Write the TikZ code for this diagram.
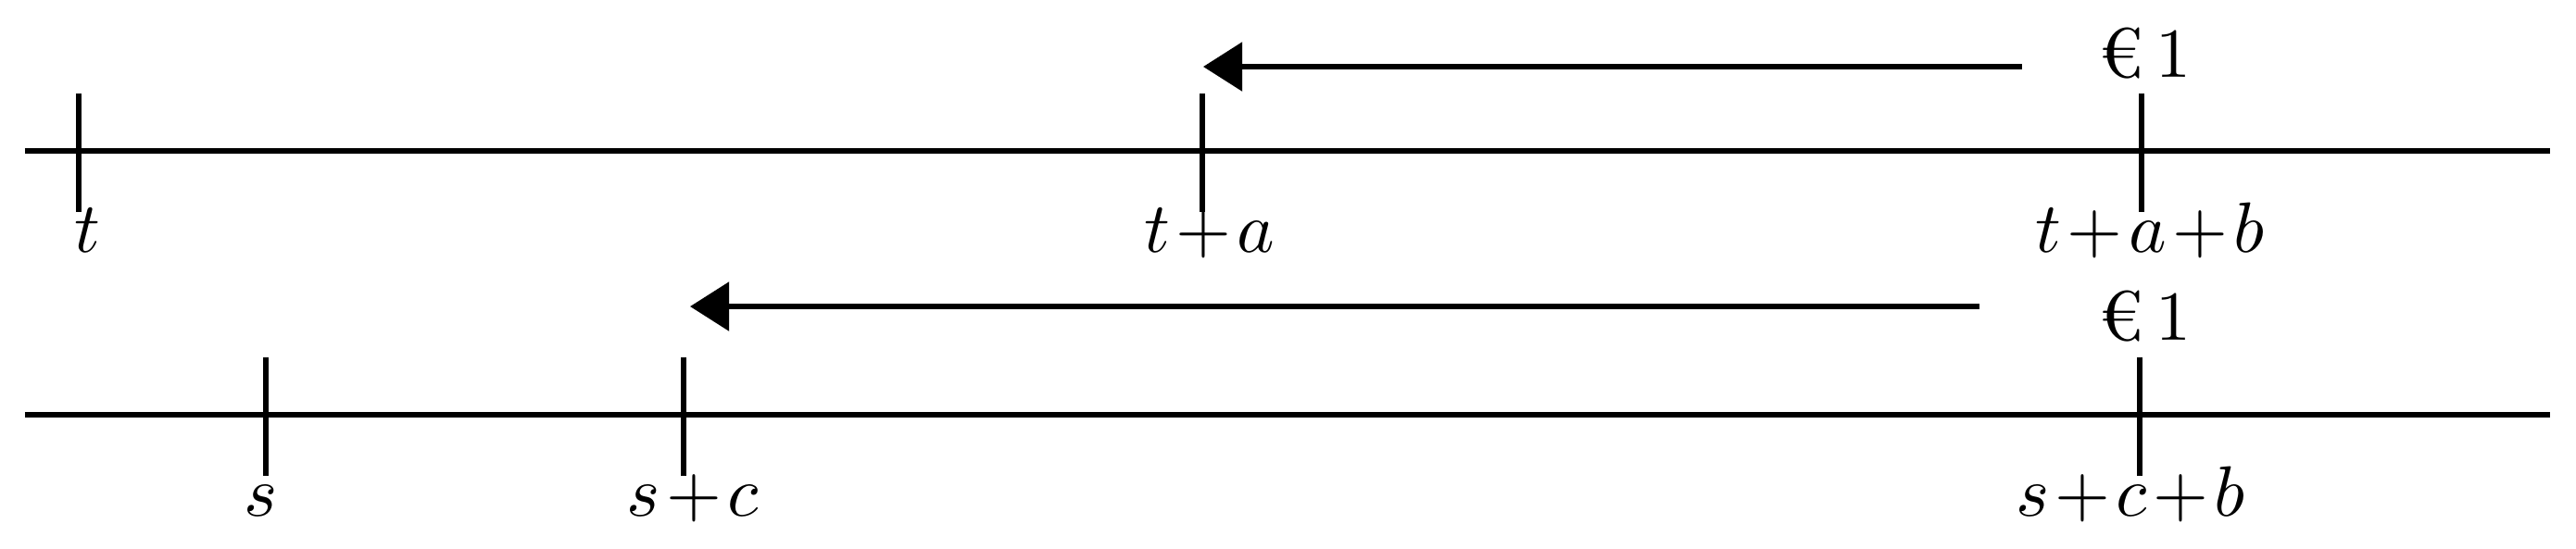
\documentclass[tikz,border=0pt]{standalone}
\usepackage{fontspec}
\usepackage{amsmath,amssymb}
\usepackage{tikz}
\usetikzlibrary{arrows.meta}
\newcommand{\tmath}[1]{$\medmuskip=1.5mu #1$}

\begin{document}
\begin{tikzpicture}[line width=0.85pt,
    lbl/.style={anchor=base, inner sep=0pt, font=\fontsize{10.8}{13}\selectfont},
    pay/.style={-{Triangle[length=6pt,width=7.4pt]}}]
    \useasboundingbox (0,0) rectangle (13.905,2.96);

    % Time line 1 (t)
    \draw (0.135,2.145) -- (13.765,2.145);
    \foreach \x in {0.425,6.49,11.56} {
        \draw (\x,2.455) -- (\x,1.815);
    }
    \node[lbl] (lt)   at (0.4725,1.60) {\tmath{t}};
    \node[lbl] (lta)  at (6.53,1.60)   {\tmath{t+a}};
    \node[lbl] (ltab) at (11.605,1.60) {\tmath{t+a+b}};

    % Payment 1
    \node[lbl] (eurA) at (11.58,2.545) {€\,1};
    \coordinate (fromA) at (10.915,2.60);
    \coordinate (toA) at (6.495,2.60);
    \draw[pay] (fromA) -- (toA);

    % Time line 2 (s)
    \draw (0.135,0.72) -- (13.765,0.72);
    \foreach \x in {1.435,3.69,11.55} {
        \draw (\x,1.03) -- (\x,0.39);
    }
    \node[lbl] (ls)   at (1.41,0.175)  {\tmath{s}};
    \node[lbl] (lsc)  at (3.74,0.175)  {\tmath{s+c}};
    \node[lbl] (lscb) at (11.50,0.175) {\tmath{s+c+b}};

    % Payment 2
    \node[lbl] (eurB) at (11.58,1.125) {€\,1};
    \coordinate (fromB) at (10.685,1.305);
    \coordinate (toB) at (3.725,1.305);
    \draw[pay] (fromB) -- (toB);
\end{tikzpicture}
\end{document}
